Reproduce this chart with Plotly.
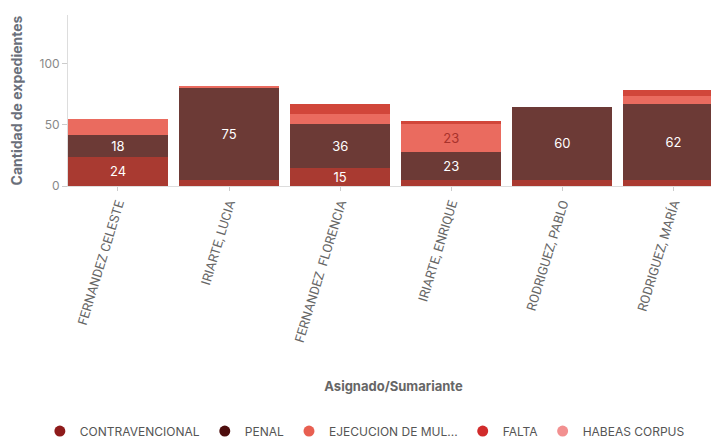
import plotly.graph_objects as go

categories = ["FERNANDEZ CELESTE", "IRIARTE, LUCIA", "FERNANDEZ  FLORENCIA",
              "IRIARTE, ENRIQUE", "RODRIGUEZ, PABLO", "RODRIGUEZ, MARÍA"]

contravencional = [24, 5, 15, 5, 5, 5]
penal = [18, 75, 36, 23, 60, 62]
ejecucion = [13, 2, 8, 23, 0, 7]
falta = [0, 0, 8, 2, 0, 5]
habeas = [0, 0, 0, 0, 0, 0]

series_names = ["CONTRAVENCIONAL", "PENAL", "EJECUCION DE MUL...", "FALTA", "HABEAS CORPUS"]
series_values = [contravencional, penal, ejecucion, falta, habeas]
bar_colors = ["#a93a31", "#6c3a36", "#ea6b5f", "#d1463a", "#f19393"]
legend_colors = ["#8e1b1b", "#4d0d0d", "#e85f51", "#d12b2b", "#f29090"]
text_colors = ["#ffffff", "#ffffff", "#a8322c", "#ffffff", "#ffffff"]

fig = go.Figure()
for name, vals, bc, tc in zip(series_names, series_values, bar_colors, text_colors):
    fig.add_trace(go.Bar(
        x=categories, y=vals, name=name, marker=dict(color=bc, line=dict(width=0)),
        text=[str(v) if v >= 15 else "" for v in vals],
        textposition="inside", insidetextanchor="middle", textangle=0,
        constraintext="none",
        textfont=dict(color=tc, size=13, family="Inter, Roboto, sans-serif"),
        showlegend=False, hoverinfo="skip",
    ))
for name, lc in zip(series_names, legend_colors):
    fig.add_trace(go.Scatter(
        x=[None], y=[None], mode="markers", name=name,
        marker=dict(color=lc, size=11, symbol="circle"), showlegend=True,
    ))

fig.update_layout(
    width=711, height=433,
    barmode="stack", bargap=0.1,
    plot_bgcolor="white", paper_bgcolor="white",
    margin=dict(l=60, r=0, t=7, b=255, autoexpand=False),
    font=dict(family="Inter, Roboto, sans-serif", color="#666666"),
    legend=dict(orientation="h", x=0.456, xanchor="center", y=-1.433, yanchor="middle",
                font=dict(size=12, color="#555555"), itemwidth=30,
                traceorder="normal"),
)
fig.update_xaxes(
    range=[-0.45, 5.41], tickangle=-73,
    tickfont=dict(size=13, color="#666666", family="Roboto, sans-serif"),
    showline=True, linecolor="#dddddd", ticks="outside", ticklen=4, tickcolor="#cccccc",
    showgrid=False, automargin=False,
    title=dict(text="<b>Asignado/Sumariante</b>", font=dict(size=13, color="#666666"), standoff=38),
)
fig.update_yaxes(
    range=[0, 140], tickvals=[0, 50, 100],
    tickfont=dict(size=12, color="#888888"),
    showline=True, linecolor="#dddddd", ticks="outside", ticklen=5, tickcolor="#cccccc",
    showgrid=False, zeroline=False, automargin=False,
    title=dict(text="<b>Cantidad de expedientes</b>", font=dict(size=14, color="#6a6f7a"), standoff=14),
)

fig.write_html("out.html")
